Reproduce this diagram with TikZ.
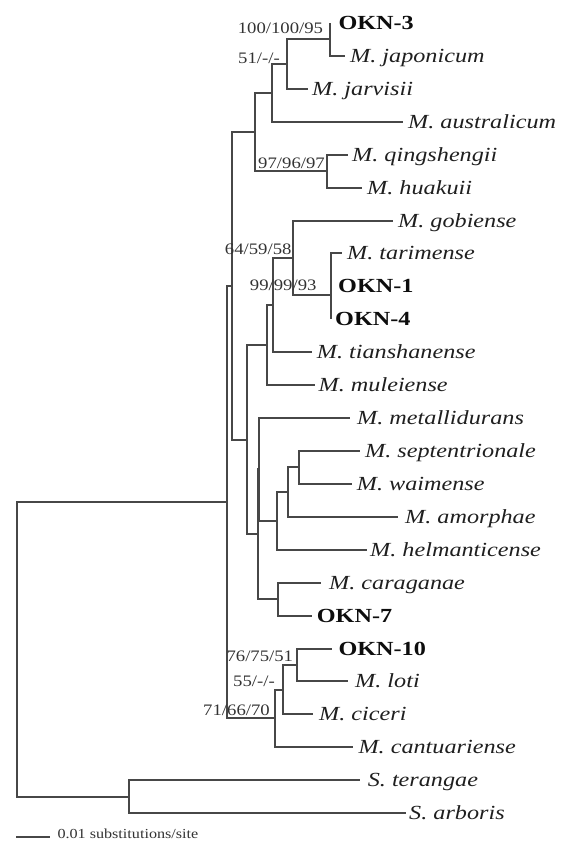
\documentclass[tikz,border=0pt]{standalone}
\usepackage{graphicx}
\usepackage{fontspec}
\setmainfont{Liberation Serif}
\newcommand\wide[1]{\scalebox{1.17}[1]{#1}}
\newcommand\widet[1]{\scalebox{1.21}[1]{#1}}
\begin{document}
\begin{tikzpicture}[x=1pt,y=-1pt,
  br/.style={draw=black!72, line width=1.4pt},
  taxon/.style={anchor=base west, inner sep=0pt, yshift=-6.8pt, text=black!88, font=\fontsize{20}{22}\selectfont\itshape},
  strain/.style={anchor=base west, inner sep=0pt, yshift=-6.8pt, text=black!95, font=\fontsize{20}{22}\selectfont\bfseries},
  supp/.style={anchor=base east, inner sep=0pt, text=black!80, font=\fontsize{16}{18}\selectfont},
  scaletxt/.style={anchor=base west, inner sep=0pt, text=black!80, font=\fontsize{13.8}{15}\selectfont},
]
\useasboundingbox (0,0) rectangle (565,841);

% internal nodes
\coordinate (R) at (17,649);
\coordinate (A) at (227,502);
\coordinate (S) at (129,797);
\coordinate (B) at (232,286);
\coordinate (T) at (255,132);
\coordinate (U) at (272,93);
\coordinate (V) at (287,64);
\coordinate (W) at (330,39);
\coordinate (Q) at (327,171);
\coordinate (D) at (247,440);
\coordinate (E) at (267,345);
\coordinate (F) at (273,305);
\coordinate (G) at (293,258);
\coordinate (H) at (331,295);
\coordinate (H2) at (331,270);
\coordinate (N2) at (258,534);
\coordinate (N1) at (259,469);
\coordinate (C) at (277,521);
\coordinate (C2) at (288,492);
\coordinate (C3) at (299,467);
\coordinate (K) at (278,599);
\coordinate (L) at (275,718);
\coordinate (L2) at (283,690);
\coordinate (L3) at (297,665);

% leaf branch ends
\coordinate (l0) at (330,23);
\coordinate (l1) at (345,56);
\coordinate (l2) at (308,89);
\coordinate (l3) at (403,122);
\coordinate (l4) at (348,155);
\coordinate (l5) at (362,188);
\coordinate (l6) at (393,221);
\coordinate (l7) at (342,253);
\coordinate (l8) at (331,286);
\coordinate (l9) at (331,319);
\coordinate (l10) at (312,352);
\coordinate (l11) at (315,385);
\coordinate (l12) at (350,418);
\coordinate (l13) at (360,451);
\coordinate (l14) at (352,484);
\coordinate (l15) at (398,517);
\coordinate (l16) at (367,550);
\coordinate (l17) at (321,583);
\coordinate (l18) at (312,616);
\coordinate (l19) at (332,649);
\coordinate (l20) at (348,681);
\coordinate (l21) at (313,714);
\coordinate (l22) at (353,747);
\coordinate (l23) at (360,780);
\coordinate (l24) at (406,813);

% branches
\foreach \p/\c in {R/A,R/S,A/B,A/L,B/T,B/D,T/U,T/Q,U/V,U/l3,V/W,V/l2,W/l0,W/l1,
  Q/l4,Q/l5,D/E,D/N2,E/F,E/l11,F/G,F/l10,G/l6,G/H,H/H2,H/l9,H2/l7,H2/l8,
  N2/N1,N2/K,N1/l12,N1/C,C/C2,C/l16,C2/C3,C2/l15,C3/l13,C3/l14,K/l17,K/l18,
  L/L2,L/l22,L2/L3,L2/l21,L3/l19,L3/l20,S/l23,S/l24}
  \draw[br] (\p) |- (\c);

% taxon labels
\node[strain] (n0) at (338.3,23) {\widet{OKN-3}};
\node[taxon] (n1) at (350,56) {\widet{M. japonicum}};
\node[taxon] (n2) at (312,89) {\widet{M. jarvisii}};
\node[taxon] (n3) at (408,122) {\widet{M. australicum}};
\node[taxon] (n4) at (352,155) {\widet{M. qingshengii}};
\node[taxon] (n5) at (367,188) {\widet{M. huakuii}};
\node[taxon] (n6) at (398,221) {\widet{M. gobiense}};
\node[taxon] (n7) at (347,253) {\widet{M. tarimense}};
\node[strain] (n8) at (338,286) {\widet{OKN-1}};
\node[strain] (n9) at (335,319) {\widet{OKN-4}};
\node[taxon] (n10) at (316.7,352) {\widet{M. tianshanense}};
\node[taxon] (n11) at (318.5,385) {\widet{M. muleiense}};
\node[taxon] (n12) at (357,418) {\widet{M. metallidurans}};
\node[taxon] (n13) at (365,451) {\widet{M. septentrionale}};
\node[taxon] (n14) at (356.7,484) {\widet{M. waimense}};
\node[taxon] (n15) at (405,517) {\widet{M. amorphae}};
\node[taxon] (n16) at (370,550) {\widet{M. helmanticense}};
\node[taxon] (n17) at (329,583) {\widet{M. caraganae}};
\node[strain] (n18) at (316.7,616) {\widet{OKN-7}};
\node[strain] (n19) at (338.3,649) {\widet{OKN-10}};
\node[taxon] (n20) at (355,681) {\widet{M. loti}};
\node[taxon] (n21) at (319,714) {\widet{M. ciceri}};
\node[taxon] (n22) at (358.3,747) {\widet{M. cantuariense}};
\node[taxon] (n23) at (367.6,780) {\widet{S. terangae}};
\node[taxon] (n24) at (409,813) {\widet{S. arboris}};

% support values
\node[supp] (s1) at (323.3,33.3) {\wide{100/100/95}};
\node[supp] (s2) at (280,63) {\wide{51/-/-}};
\node[supp] (s3) at (325,168) {\wide{97/96/97}};
\node[supp] (s4) at (291.7,254) {\wide{64/59/58}};
\node[supp] (s5) at (316.7,290.5) {\wide{99/99/93}};
\node[supp] (s6) at (293.3,661) {\wide{76/75/51}};
\node[supp] (s7) at (275,686.5) {\wide{55/-/-}};
\node[supp] (s8) at (270,715) {\wide{71/66/70}};

% scale bar
\coordinate (sb1) at (16,837);
\coordinate (sb2) at (50,837);
\draw[br, line width=1.2pt] (sb1) -- (sb2);
\node[scaletxt] (sbt) at (57.3,838.5) {\wide{0.01 substitutions/site}};
\end{tikzpicture}
\end{document}
